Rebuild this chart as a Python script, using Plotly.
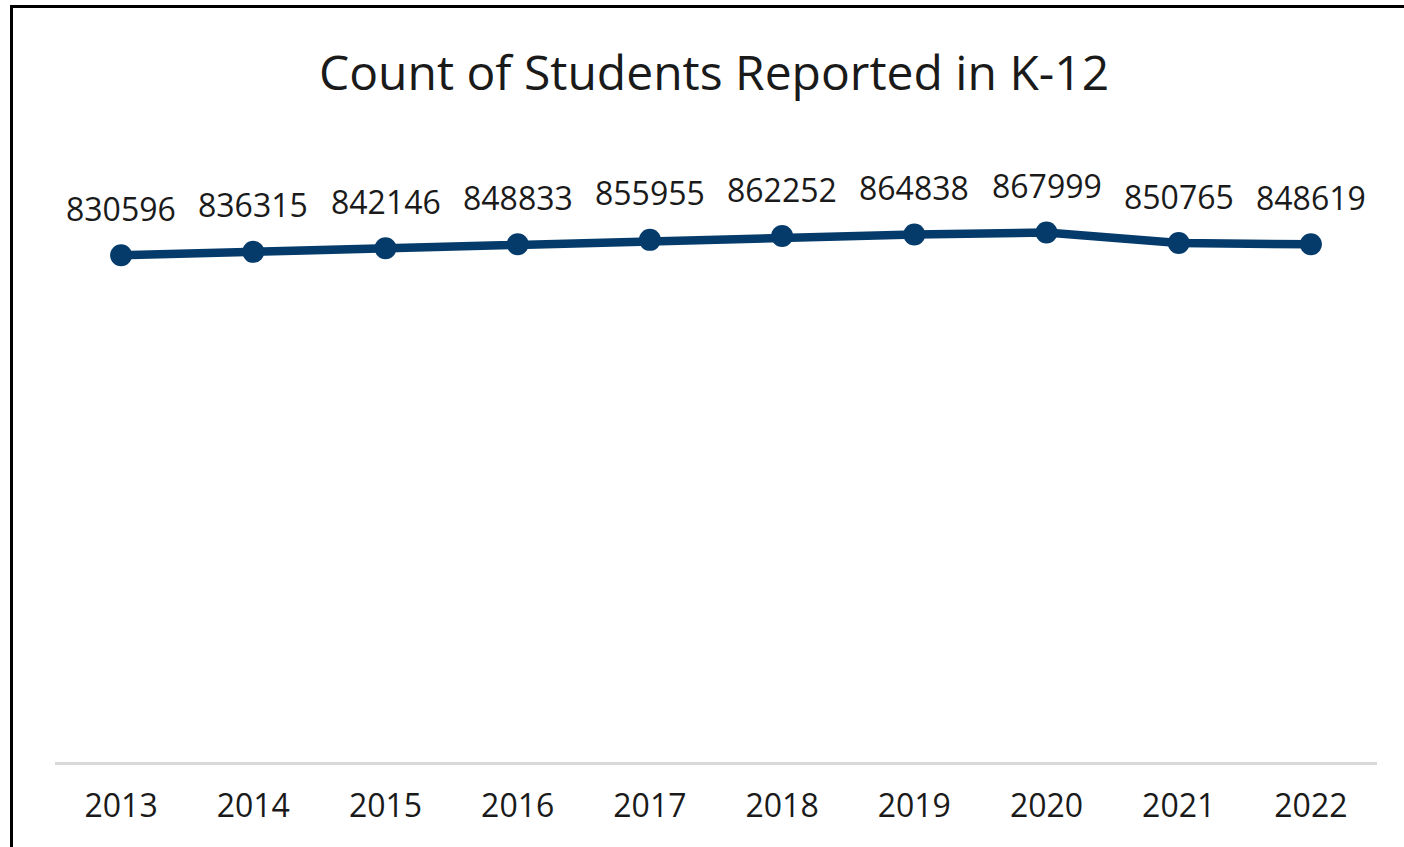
import plotly.graph_objects as go

years = ["2013", "2014", "2015", "2016", "2017", "2018", "2019", "2020", "2021", "2022"]
counts = [830596, 836315, 842146, 848833, 855955, 862252, 864838, 867999, 850765, 848619]

W, H = 1404, 847
L, R, T, B = 55, 27, 152, 85
pw, ph = W - L - R, H - T - B

def px_x(x):
    return (x - L) / pw

def px_y(y):
    return (H - B - y) / ph

navy = "#053b6b"
fig = go.Figure()
fig.add_trace(go.Scatter(
    x=years, y=counts, mode="lines+markers",
    line=dict(color=navy, width=8.5),
    marker=dict(color=navy, size=22),
    hoverinfo="skip", showlegend=False,
))

for i, v in enumerate(counts):
    fig.add_annotation(x=i, y=v, text=str(v), showarrow=False,
                       yshift=47, yanchor="middle",
                       font=dict(family="Open Sans", size=32, color="#1a1a1a"))

fig.update_layout(
    width=W, height=H,
    margin=dict(l=L, r=R, t=T, b=B),
    paper_bgcolor="white", plot_bgcolor="white",
    title=dict(text="Count of Students Reported in K-12", x=714 / W, xanchor="center",
               y=1 - 73 / H, yanchor="middle",
               font=dict(family="Open Sans", size=48, color="#1a1a1a")),
    xaxis=dict(type="category", range=[-0.5, 9.5], showgrid=False, zeroline=False,
               showline=True, linecolor="#d9d9d9", linewidth=3,
               ticks="", ticklabelstandoff=14,
               tickfont=dict(family="Open Sans", size=32, color="#1a1a1a")),
    yaxis=dict(range=[0, 1000000], showgrid=False, zeroline=False, showline=False,
               showticklabels=False, ticks=""),
    shapes=[
        dict(type="line", xref="paper", yref="paper", x0=px_x(11.5), x1=px_x(11.5),
             y0=px_y(5), y1=px_y(H + 5), line=dict(color="black", width=3)),
        dict(type="line", xref="paper", yref="paper", x0=px_x(10), x1=px_x(W + 5),
             y0=px_y(6.5), y1=px_y(6.5), line=dict(color="black", width=3)),
    ],
)

fig.write_html("out.html", config={"displayModeBar": False},
               post_script="document.body.style.margin='0';document.body.style.overflow='hidden';")
